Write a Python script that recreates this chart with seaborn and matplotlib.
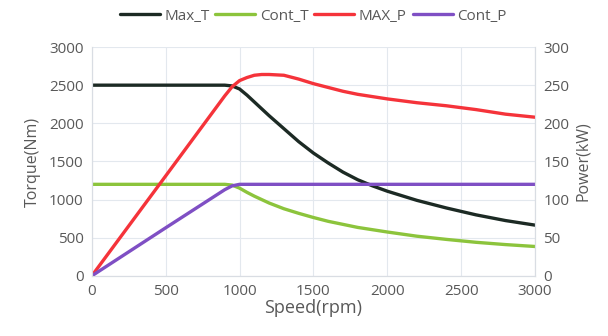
import matplotlib
matplotlib.use('Agg')
import matplotlib.pyplot as plt
import seaborn as sns

# speed points (rpm) and curves
speed = [0, 500, 900, 950, 1000, 1050, 1100, 1150, 1200, 1300, 1400, 1500,
         1600, 1700, 1800, 1900, 2000, 2200, 2400, 2600, 2800, 3000]
max_t = [2500, 2500, 2500, 2490, 2450, 2370, 2280, 2190, 2100, 1930, 1760, 1610,
         1480, 1360, 1260, 1180, 1110, 990, 890, 800, 725, 665]
cont_t = [1200, 1200, 1200, 1190, 1150, 1095, 1045, 1000, 955, 880, 820, 765,
          715, 675, 635, 605, 575, 520, 478, 440, 410, 385]
max_p = [0, 131, 236, 248, 256, 260, 263, 264, 264, 263, 258, 252,
         247, 242, 238, 235, 232, 227, 223, 218, 212, 208]
cont_p = [0, 63, 113, 118, 120, 120, 120, 120, 120, 120, 120, 120,
          120, 120, 120, 120, 120, 120, 120, 120, 120, 120]

sns.set_style('white')
plt.rcParams['font.family'] = ['Open Sans', 'DejaVu Sans']
text_grey = '#595959'

fig = plt.figure(figsize=(6.08, 3.36), dpi=100)
ax = fig.add_axes([0.151, 0.179, 0.729, 0.681])
ax2 = ax.twinx()

sns.lineplot(x=speed, y=max_t, ax=ax, color='#1c2a24', linewidth=2.4, label='Max_T', legend=False)
sns.lineplot(x=speed, y=cont_t, ax=ax, color='#8cc43c', linewidth=2.4, label='Cont_T', legend=False)
sns.lineplot(x=speed, y=max_p, ax=ax2, color='#f5333a', linewidth=2.4, label='MAX_P', legend=False)
sns.lineplot(x=speed, y=cont_p, ax=ax2, color='#7f4fc4', linewidth=2.4, label='Cont_P', legend=False)

ax.set_xlim(0, 3000)
ax.set_ylim(0, 3000)
ax2.set_ylim(0, 300)
ax.set_xticks(range(0, 3001, 500))
ax.set_yticks(range(0, 3001, 500))
ax2.set_yticks(range(0, 301, 50))
ax.grid(True, color='#e3e8ee', linewidth=0.8)
ax.set_axisbelow(True)

for a in (ax, ax2):
    a.tick_params(length=0, labelsize=11, labelcolor=text_grey, pad=6)
    for side, sp in a.spines.items():
        sp.set_color('#d9dde3')
        sp.set_linewidth(0.8)
        if side == 'top':
            sp.set_visible(False)

ax.set_xlabel('Speed(rpm)', fontsize=13, color=text_grey, labelpad=0)
ax.set_ylabel('Torque(Nm)', fontsize=11.5, color=text_grey, labelpad=6)
ax2.set_ylabel('Power(kW)', fontsize=11.5, color=text_grey, labelpad=4)

handles = ax.get_lines()[:2] + ax2.get_lines()[:2]
labels = ['Max_T', 'Cont_T', 'MAX_P', 'Cont_P']
fig.legend(handles, labels, loc='center', bbox_to_anchor=(0.515, 0.952), ncol=4,
           frameon=False, fontsize=11, handlelength=2.6, columnspacing=0.4,
           handletextpad=0.3, labelcolor=text_grey)

fig.savefig('out.png', dpi=100)
